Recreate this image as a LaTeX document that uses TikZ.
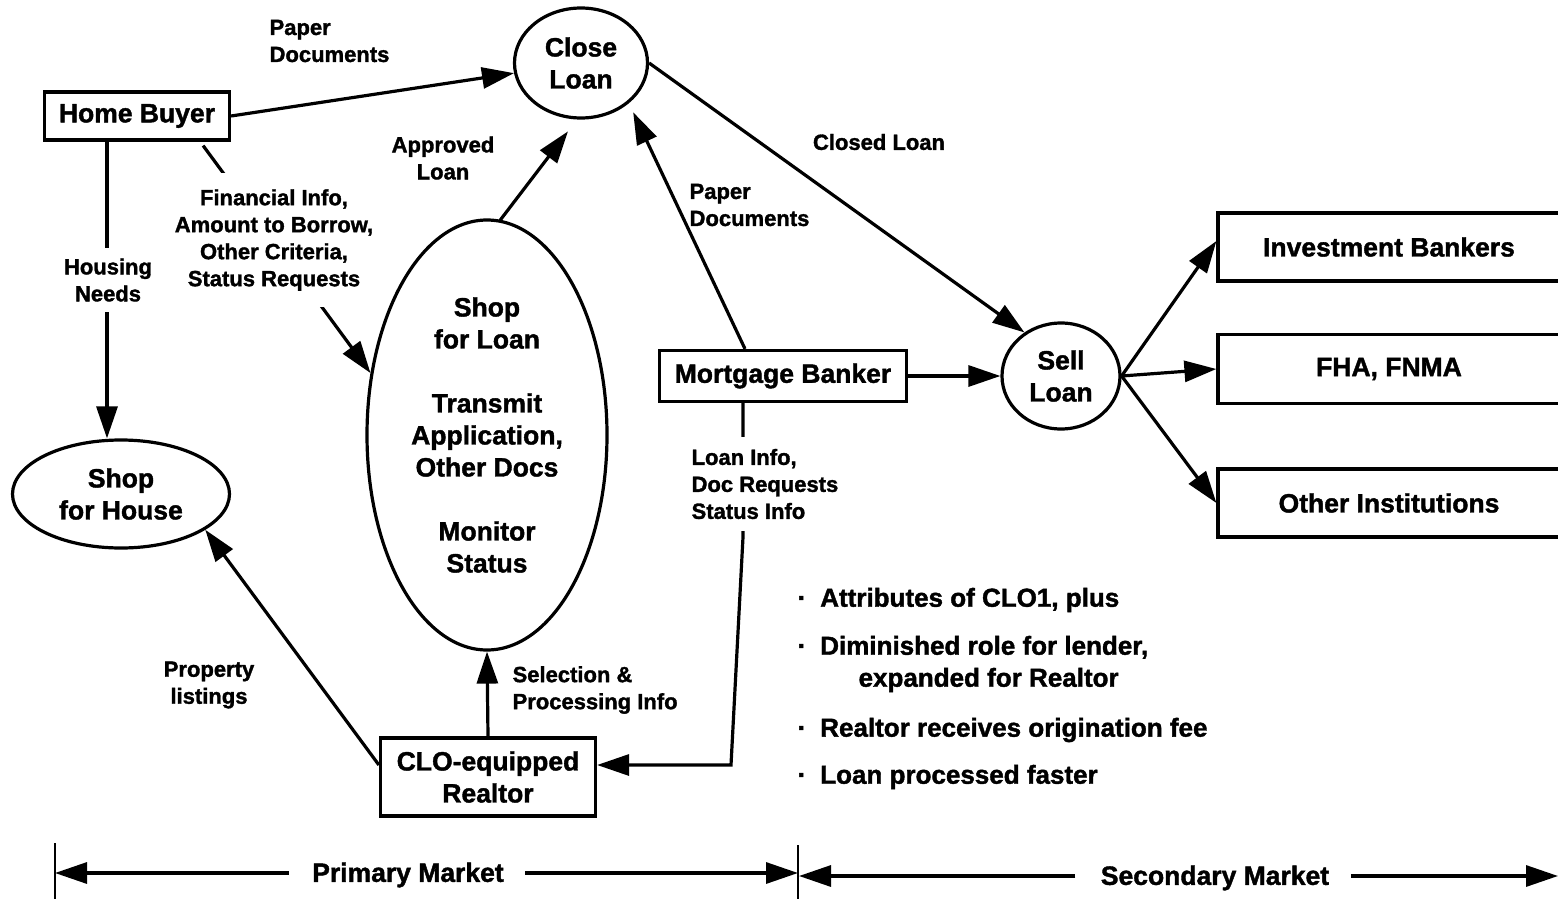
\documentclass[tikz,border=0pt]{standalone}
\usepackage{fontspec}
\setmainfont{Liberation Sans}[BoldFeatures={FakeBold=1.5}]
\usetikzlibrary{arrows.meta,shapes.geometric,calc}
\begin{document}
\begin{tikzpicture}[x=1pt,y=-1pt,
  line width=3.2pt,
  arr/.style={-{Triangle[length=32pt,width=21pt]}},
  mainf/.style={font=\fontsize{26.5}{32}\selectfont\bfseries, align=center},
  lbl/.style={font=\fontsize{22}{27}\selectfont\bfseries, align=center, inner sep=0pt},
  bul/.style={font=\fontsize{26}{32}\selectfont\bfseries, align=left, inner sep=0pt, anchor=west},
  bot/.style={font=\fontsize{26.5}{32}\selectfont\bfseries, inner sep=0pt},
  boxn/.style={draw, rectangle, mainf, inner sep=0pt},
  ell/.style={draw, ellipse, mainf, inner sep=0pt},
  ]
\useasboundingbox (0,0) rectangle (1558,899);

% main nodes
\node[boxn, minimum width=185pt, minimum height=48pt] (hb) at (137,116) {Home Buyer};
\node[ell, minimum width=133pt, minimum height=110pt] (close) at (581,63) {Close\\Loan};
\node[ell, minimum width=118pt, minimum height=106pt] (sell) at (1061,376) {Sell\\Loan};
\node[ell, minimum width=240pt, minimum height=430pt] (loan) at (487,435)
  {Shop\\for Loan\\[32pt]Transmit\\Application,\\Other Docs\\[32pt]Monitor\\Status};
\node[ell, minimum width=217pt, minimum height=108pt] (house) at (121,494) {Shop\\for House};
\node[boxn, minimum width=247pt, minimum height=51pt] (mb) at (783,376) {Mortgage Banker};
\node[boxn, minimum width=215pt, minimum height=78pt] (realtor) at (488,777) {CLO-equipped\\Realtor};
\node[boxn, minimum width=342pt, minimum height=68pt] (ib) at (1389,247) {Investment Bankers};
\node[boxn, minimum width=342pt, minimum height=69pt] (fha) at (1389,369) {FHA, FNMA};
\node[boxn, minimum width=342pt, minimum height=68pt] (oi) at (1389,503) {Other Institutions};

% connectors
\draw[arr] (hb.east) -- (close);
\node[lbl, align=left, anchor=west] (pd1) at (268,41) {Paper\\Documents};

\draw[arr] ($(hb.south)+(-30,0)$) -- ($(house.north)+(-14,0)$);
\node[lbl, fill=white, inner xsep=3pt, inner ysep=10pt] (hn) at (108,280) {Housing\\Needs};

\draw[arr] ($(hb.south east)+(-28,4)$) -- (loan.152);
\node[lbl, fill=white, inner xsep=4pt, inner ysep=16pt] (fin) at (274,240)
  {Financial Info,\\Amount to Borrow,\\Other Criteria,\\Status Requests};

\draw[arr, shorten >=15pt] ($(loan.north)+(13,2)$) -- (close.266);
\node[lbl] (appr) at (443,158) {Approved\\Loan};

\draw[arr, shorten >=10pt] ($(mb.north)+(-38,0)$) -- (close.320);
\node[lbl, align=left, anchor=west] (pd2) at (688,205) {Paper\\Documents};

\draw[arr] (close.east) -- (sell.130);
\node[lbl] (cl) at (879,142) {Closed Loan};

\draw[arr] (mb.east) -- (sell.west);
\draw[arr] (sell.east) -- ($(ib.west)+(0,-6)$);
\draw[arr] (sell.east) -- (fha.west);
\draw[arr] (sell.east) -- (oi.west);

\coordinate (bend) at (731,765);
\draw[arr] ($(mb.south)+(-40,0)$) -- ($(mb.south)+(-40,134)$) -- (bend) -- (realtor.east |- bend);
\node[lbl, fill=white, align=left, anchor=west, inner xsep=2pt, inner ysep=12pt] (li) at (688,484)
  {Loan Info,\\Doc Requests\\Status Info};

\draw[arr] (realtor.north) -- (loan.south);
\node[lbl, align=left, anchor=west] (sel) at (511,690) {Selection \&\\Processing Info};

\draw[arr] ($(realtor.west)+(0,-12)$) -- (house.337);
\node[lbl] (prop) at (209,685) {Property\\listings};

% bullets
\node[bul] (b1) at (796,600) {·\hspace{14pt}Attributes of CLO1, plus};
\node[bul] (b2) at (796,664) {·\hspace{14pt}Diminished role for lender,\\\hspace*{61pt}expanded for Realtor};
\node[bul] (b3) at (796,730) {·\hspace{14pt}Realtor receives origination fee};
\node[bul] (b4) at (796,777) {·\hspace{14pt}Loan processed faster};

% market scale
\draw[line width=2.4pt] (55,843) -- (55,899);
\draw[line width=2.4pt] (798,845) -- (798,899);
\coordinate (l1) at (55,873);
\coordinate (m1) at (798,873);
\coordinate (m2) at (799,876);
\coordinate (r1) at (1558,876);
\node[bot] (pm) at (408,875) {Primary Market};
\node[bot] (sm) at (1215,878) {Secondary Market};
\draw[arr] ($(pm.west)+(-22,-2)$) -- (l1);
\draw[arr] ($(pm.east)+(20,-2)$) -- (m1);
\draw[arr] ($(sm.west)+(-24,-2)$) -- (m2);
\draw[arr] ($(sm.east)+(20,-2)$) -- (r1);
\end{tikzpicture}
\end{document}
